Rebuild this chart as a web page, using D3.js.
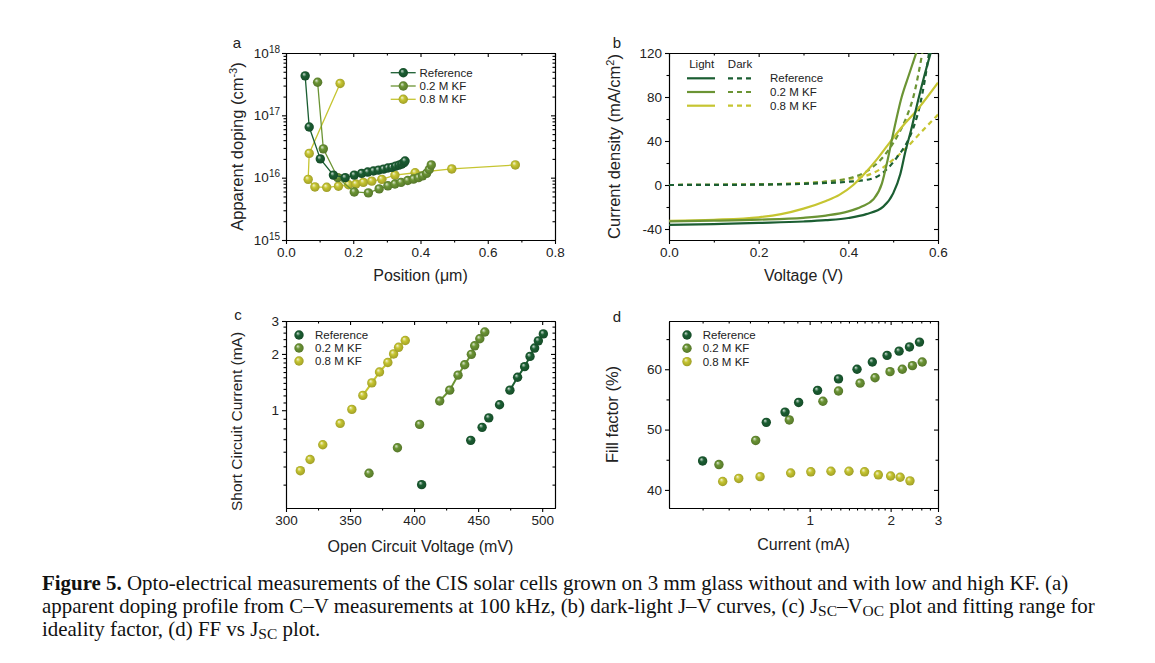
<!DOCTYPE html>
<html>
<head>
<meta charset="utf-8">
<script src="https://cdn.jsdelivr.net/npm/d3@7"></script>
<style>
  body { margin: 0; background: #fff; }
  svg { display: block; font-family: "Liberation Sans", Arial, sans-serif; }
</style>
</head>
<body>
<svg id="fig" width="1155" height="663"></svg>
<script>
// ---- data ----
const seriesNames = ["Reference", "0.2 M KF", "0.8 M KF"];

// (a) apparent doping profile
const posRef  = [0.057, 0.069, 0.102, 0.141, 0.176, 0.203, 0.225, 0.243, 0.260, 0.275, 0.290, 0.303, 0.315, 0.326, 0.336, 0.344, 0.351, 0.354];
const dopRef  = [4.3e17, 6.5e16, 2.0e16, 1.1e16, 1.0e16, 1.1e16, 1.17e16, 1.23e16, 1.28e16, 1.32e16, 1.37e16, 1.43e16, 1.46e16, 1.53e16, 1.59e16, 1.65e16, 1.74e16, 1.85e16];
const posKF02 = [0.094, 0.111, 0.154, 0.203, 0.245, 0.277, 0.303, 0.324, 0.342, 0.362, 0.379, 0.394, 0.406, 0.418, 0.426, 0.432];
const dopKF02 = [3.4e17, 2.9e16, 1.0e16, 5.9e15, 5.7e15, 6.6e15, 7.4e15, 7.9e15, 8.4e15, 9.0e15, 9.5e15, 1.0e16, 1.07e16, 1.17e16, 1.35e16, 1.6e16];
const posKF08 = [0.161, 0.069, 0.066, 0.086, 0.121, 0.156, 0.186, 0.208, 0.230, 0.255, 0.285, 0.324, 0.384, 0.493, 0.682];
const dopKF08 = [3.25e17, 2.45e16, 9.4e15, 7.1e15, 7.0e15, 7.3e15, 7.7e15, 7.9e15, 8.4e15, 8.8e15, 9.4e15, 1.1e16, 1.2e16, 1.38e16, 1.6e16];

// (b) J-V curves, light and dark
const lightRefV  = [0, 0.1, 0.2, 0.3, 0.35, 0.4, 0.44, 0.478, 0.5, 0.516, 0.527, 0.54, 0.555, 0.57, 0.585];
const lightRefJ  = [-36.3, -35.5, -34.5, -33.2, -32, -30, -26.5, -19.7, -7.6, 10, 30, 50, 76, 100, 122];
const lightKF02V = [0, 0.1, 0.2, 0.3, 0.35, 0.4, 0.43, 0.456, 0.475, 0.486, 0.497, 0.519, 0.535, 0.553];
const lightKF02J = [-33, -32.4, -31.5, -29.8, -27.8, -24, -19.5, -13, 1.5, 19.7, 41, 80, 100, 122];
const lightKF08V = [0, 0.1, 0.2, 0.25, 0.3, 0.35, 0.38, 0.411, 0.44, 0.465, 0.493, 0.52, 0.553, 0.6];
const lightKF08J = [-32.5, -31.6, -29.4, -26.5, -21.5, -14.5, -9, 0, 12, 24, 39, 53, 68, 93];
const darkRefV   = [0, 0.1, 0.2, 0.3, 0.35, 0.4, 0.45, 0.47, 0.49, 0.51, 0.53, 0.545, 0.56, 0.57, 0.58];
const darkRefJ   = [0, 0.1, 0.3, 1, 1.8, 3, 5.5, 9, 16, 26, 38, 52, 73, 94, 120];
const darkKF02V  = [0, 0.1, 0.2, 0.3, 0.35, 0.4, 0.43, 0.45, 0.47, 0.49, 0.51, 0.53, 0.545, 0.565];
const darkKF02J  = [0, 0.2, 0.6, 1.5, 3, 6, 10, 15, 22, 32, 45, 62, 80, 120];
const darkKF08V  = [0, 0.1, 0.2, 0.3, 0.35, 0.4, 0.44, 0.47, 0.5, 0.53, 0.56, 0.6];
const darkKF08J  = [0, 0.2, 0.5, 1.8, 3, 5.5, 8.5, 14, 23, 34, 47, 64];

// (c) Jsc-Voc and (d) FF vs Jsc  (same current values in both)
const vocRef  = [405.9, 444.2, 453.1, 458.3, 466.7, 474.8, 480.8, 486.3, 490.5, 494.1, 497.0, 500.9];
const iscRef  = [0.40, 0.69, 0.81, 0.91, 1.07, 1.28, 1.50, 1.71, 1.94, 2.15, 2.35, 2.56];
const ffRef   = [44.8, 51.2, 52.9, 54.5, 56.5, 58.4, 60.0, 61.2, 62.3, 63.0, 63.7, 64.5];
const vocKF02 = [364.8, 387.0, 404.3, 420.0, 427.8, 434.3, 439.5, 444.7, 447.3, 451.3, 455.2];
const iscKF02 = [0.46, 0.63, 0.84, 1.12, 1.28, 1.54, 1.75, 1.99, 2.21, 2.41, 2.62];
const ffKF02  = [44.2, 48.2, 51.6, 54.7, 56.4, 57.7, 58.6, 59.6, 60.0, 60.6, 61.2];
const vocKF08 = [311.2, 318.8, 328.7, 342.3, 351.4, 360.0, 367.0, 373.0, 379.5, 384.0, 387.9, 393.1];
const iscKF08 = [0.475, 0.545, 0.654, 0.85, 1.01, 1.20, 1.40, 1.60, 1.80, 2.0, 2.17, 2.36];
const ffKF08  = [41.4, 41.9, 42.2, 42.8, 43.0, 43.1, 43.1, 43.0, 42.5, 42.3, 42.1, 41.5];
const fitStart = [5, 3, 5];   // first point of the ideality fitting range

// tick values
const aXTicks = [0, 0.2, 0.4, 0.6, 0.8], aXMinor = [0.1, 0.3, 0.5, 0.7];
const aYTicks = [1e15, 1e16, 1e17, 1e18];
const bXTicks = [0, 0.2, 0.4, 0.6], bXMinor = [0.1, 0.3, 0.5];
const bYTicks = [-40, 0, 40, 80, 120], bYMinor = [-20, 20, 60, 100];
const cXTicks = [300, 350, 400, 450, 500], cXMinor = [325, 375, 425, 475];
const logTicks = [1, 2, 3];
const logMinor = [0.4, 0.5, 0.6, 0.7, 0.8, 0.9, 1.1, 1.2, 1.3, 1.4, 1.5, 1.6, 1.7, 1.8, 1.9, 2.2, 2.4, 2.6, 2.8];
const dYTicks = [40, 50, 60], dYMinor = [45, 55, 65];

// ---- styles ----
const colors = ["#1b5e32", "#6b9434", "#c6c531"];
const W = 269, H = 187;
const svg = d3.select("#fig");
const defs = svg.append("defs");

colors.forEach(function(c, i) {
  const g = defs.append("radialGradient").attr("id", "ball" + i)
    .attr("cx", "50%").attr("cy", "50%").attr("r", "55%")
    .attr("fx", "35%").attr("fy", "30%");
  g.append("stop").attr("offset", "0%").attr("stop-color", d3.interpolateRgb(c, "#fff")(0.8));
  g.append("stop").attr("offset", "40%").attr("stop-color", c);
  g.append("stop").attr("offset", "100%").attr("stop-color", d3.color(c).darker(0.7));
});

function zip(a, b) { return a.map(function(v, i) { return [v, b[i]]; }); }

function panel(x0, y0, id) {
  defs.append("clipPath").attr("id", "clip" + id)
    .append("rect").attr("width", W).attr("height", H);
  return svg.append("g").attr("transform", "translate(" + x0 + "," + y0 + ")");
}

function styleAxis(sel) {
  sel.attr("font-size", 13.5).attr("font-family", null);
  sel.selectAll("path, line").attr("stroke", "#000").attr("stroke-width", 1.1);
  sel.selectAll("text").attr("fill", "#222");
}

function axes(g, x, y, o) {
  // bottom, with labels
  g.append("g").attr("transform", "translate(0," + H + ")")
    .call(d3.axisBottom(x).tickValues(o.xTicks).tickSize(4).tickPadding(3).tickSizeOuter(0).tickFormat(o.xFmt))
    .call(styleAxis);
  g.append("g").attr("transform", "translate(0," + H + ")")
    .call(d3.axisBottom(x).tickValues(o.xMinor).tickSize(2.5).tickSizeOuter(0).tickFormat(""))
    .call(styleAxis);
  // left, with labels
  const ly = g.append("g")
    .call(d3.axisLeft(y).tickValues(o.yTicks).tickSize(4).tickPadding(o.yPad || 3).tickSizeOuter(0).tickFormat(o.yFmt))
    .call(styleAxis);
  g.append("g")
    .call(d3.axisLeft(y).tickValues(o.yMinor).tickSize(2.5).tickSizeOuter(0).tickFormat(""))
    .call(styleAxis);
  // top and right, ticks pointing inward
  g.append("g").call(d3.axisBottom(x).tickValues(o.xTicks).tickSize(4).tickSizeOuter(0).tickFormat("")).call(styleAxis);
  g.append("g").call(d3.axisBottom(x).tickValues(o.xMinor).tickSize(2.5).tickSizeOuter(0).tickFormat("")).call(styleAxis);
  g.append("g").attr("transform", "translate(" + W + ",0)")
    .call(d3.axisLeft(y).tickValues(o.yTicks).tickSize(4).tickSizeOuter(0).tickFormat("")).call(styleAxis);
  g.append("g").attr("transform", "translate(" + W + ",0)")
    .call(d3.axisLeft(y).tickValues(o.yMinor).tickSize(2.5).tickSizeOuter(0).tickFormat("")).call(styleAxis);
  return ly;
}

function xTitle(g, txt, dy) {
  g.append("text").attr("x", W / 2).attr("y", H + dy).attr("text-anchor", "middle")
    .attr("font-size", 16).attr("fill", "#222").text(txt);
}

function yTitle(g, dx, parts, size, shift) {
  const t = g.append("text")
    .attr("transform", "translate(" + dx + "," + (H / 2 + (shift || 0)) + ") rotate(-90)")
    .attr("text-anchor", "middle").attr("font-size", size || 16.5).attr("fill", "#222");
  parts.forEach(function(p) {
    const s = t.append("tspan").text(p[0]);
    if (p[1] === "sup") s.attr("font-size", 11).attr("baseline-shift", "super");
  });
}

function panelLabel(x, y, txt) {
  svg.append("text").attr("x", x).attr("y", y).attr("text-anchor", "middle")
    .attr("font-size", 15).attr("fill", "#222").text(txt);
}

function balls(g, pts, i) {
  g.selectAll(null).data(pts).enter().append("circle")
    .attr("cx", function(d) { return d[0]; }).attr("cy", function(d) { return d[1]; })
    .attr("r", 4.7).attr("fill", "url(#ball" + i + ")");
}

// ================= (a) =================
const ga = panel(286, 53, "a");
const xa = d3.scaleLinear().domain([0, 0.8]).range([0, W]);
const ya = d3.scaleLog().domain([1e15, 1e18]).range([H, 0]);
const aMinor = [];
[1e15, 1e16, 1e17].forEach(function(dec) { for (let k = 2; k <= 9; k++) aMinor.push(k * dec); });
const lyA = axes(ga, xa, ya, { xTicks: aXTicks, xMinor: aXMinor, xFmt: d3.format(".1f"),
  yTicks: aYTicks, yMinor: aMinor, yFmt: function() { return "10"; }, yPad: 2 });
lyA.selectAll(".tick text").each(function(d) {
  d3.select(this).append("tspan").attr("font-size", 10).attr("dy", "-0.5em")
    .text(Math.round(Math.log10(d)));
});
const aData = [zip(posRef, dopRef), zip(posKF02, dopKF02), zip(posKF08, dopKF08)];
const lineA = d3.line().x(function(d) { return xa(d[0]); }).y(function(d) { return ya(d[1]); });
[2, 1, 0].forEach(function(i) {
  ga.append("path").attr("d", lineA(aData[i])).attr("fill", "none")
    .attr("stroke", colors[i]).attr("stroke-width", 1.3);
  balls(ga, aData[i].map(function(d) { return [xa(d[0]), ya(d[1])]; }), i);
});
seriesNames.forEach(function(n, i) {
  const ly = 19.7 + i * 13.3;
  ga.append("line").attr("x1", 104.7).attr("x2", 129.7).attr("y1", ly).attr("y2", ly)
    .attr("stroke", colors[i]).attr("stroke-width", 1.3);
  balls(ga, [[117.3, ly]], i);
  ga.append("text").attr("x", 133.5).attr("y", ly).attr("dy", "0.35em")
    .attr("font-size", 11.5).attr("fill", "#222").text(n);
});
xTitle(ga, "Position (\u03bcm)", 41);
yTitle(ga, -43, [["Apparent doping (cm"], ["-3", "sup"], [")"]]);
panelLabel(237, 48, "a");

// ================= (b) =================
const gb = panel(669, 53, "b");
const xb = d3.scaleLinear().domain([0, 0.6]).range([0, W]);
const yb = d3.scaleLinear().domain([-50, 120]).range([H, 0]);
axes(gb, xb, yb, { xTicks: bXTicks, xMinor: bXMinor, xFmt: d3.format(".1f"),
  yTicks: bYTicks, yMinor: bYMinor, yFmt: function(d) { return String(d); } });
const lineB = d3.line().curve(d3.curveMonotoneX)
  .x(function(d) { return xb(d[0]); }).y(function(d) { return yb(d[1]); });
const darkB = [zip(darkRefV, darkRefJ), zip(darkKF02V, darkKF02J), zip(darkKF08V, darkKF08J)];
const lightB = [zip(lightRefV, lightRefJ), zip(lightKF02V, lightKF02J), zip(lightKF08V, lightKF08J)];
const plotB = gb.append("g").attr("clip-path", "url(#clipb)");
[2, 1, 0].forEach(function(i) {
  plotB.append("path").attr("d", lineB(darkB[i])).attr("fill", "none")
    .attr("stroke", colors[i]).attr("stroke-width", 2.2).attr("stroke-dasharray", "5,4");
});
[2, 1, 0].forEach(function(i) {
  plotB.append("path").attr("d", lineB(lightB[i])).attr("fill", "none")
    .attr("stroke", colors[i]).attr("stroke-width", 2.2);
});
gb.append("text").attr("x", 32.7).attr("y", 11).attr("dy", "0.35em").attr("text-anchor", "middle")
  .attr("font-size", 11.5).attr("fill", "#222").text("Light");
gb.append("text").attr("x", 71).attr("y", 11).attr("dy", "0.35em").attr("text-anchor", "middle")
  .attr("font-size", 11.5).attr("fill", "#222").text("Dark");
seriesNames.forEach(function(n, i) {
  const ly = 25.3 + i * 13.7;
  gb.append("line").attr("x1", 18).attr("x2", 46).attr("y1", ly).attr("y2", ly)
    .attr("stroke", colors[i]).attr("stroke-width", 2.2);
  gb.append("line").attr("x1", 59).attr("x2", 85).attr("y1", ly).attr("y2", ly)
    .attr("stroke", colors[i]).attr("stroke-width", 2.2).attr("stroke-dasharray", "5,4");
  gb.append("text").attr("x", 101).attr("y", ly).attr("dy", "0.35em")
    .attr("font-size", 11.5).attr("fill", "#222").text(n);
});
xTitle(gb, "Voltage (V)", 41);
yTitle(gb, -49, [["Current density (mA/cm"], ["2", "sup"], [")"]]);
panelLabel(617, 48, "b");

// ================= (c) =================
const gc = panel(286, 321, "c");
const xc = d3.scaleLinear().domain([300, 510]).range([0, W]);
const yc = d3.scaleLog().domain([0.3, 3]).range([H, 0]);
axes(gc, xc, yc, { xTicks: cXTicks, xMinor: cXMinor, xFmt: d3.format("d"),
  yTicks: logTicks, yMinor: logMinor, yFmt: d3.format("d") });
const cData = [zip(vocRef, iscRef), zip(vocKF02, iscKF02), zip(vocKF08, iscKF08)];
const lineC = d3.line().x(function(d) { return xc(d[0]); }).y(function(d) { return yc(d[1]); });
[2, 1, 0].forEach(function(i) {
  gc.append("path").attr("d", lineC(cData[i].slice(fitStart[i]))).attr("fill", "none")
    .attr("stroke", colors[i]).attr("stroke-width", 2);
  balls(gc, cData[i].map(function(d) { return [xc(d[0]), yc(d[1])]; }), i);
});
seriesNames.forEach(function(n, i) {
  const ly = 14 + i * 13;
  balls(gc, [[13, ly]], i);
  gc.append("text").attr("x", 29).attr("y", ly).attr("dy", "0.35em")
    .attr("font-size", 11.5).attr("fill", "#222").text(n);
});
xTitle(gc, "Open Circuit Voltage (mV)", 44);
yTitle(gc, -44, [["Short Circuit Current (mA)"]], 15.5, 7);
panelLabel(238, 320, "c");

// ================= (d) =================
const gd = panel(669, 321, "d");
const xd = d3.scaleLog().domain([0.3, 3]).range([0, W]);
const yd = d3.scaleLinear().domain([37, 68]).range([H, 0]);
axes(gd, xd, yd, { xTicks: logTicks, xMinor: logMinor, xFmt: d3.format("d"),
  yTicks: dYTicks, yMinor: dYMinor, yFmt: d3.format("d") });
const dData = [zip(iscRef, ffRef), zip(iscKF02, ffKF02), zip(iscKF08, ffKF08)];
[2, 1, 0].forEach(function(i) {
  balls(gd, dData[i].map(function(d) { return [xd(d[0]), yd(d[1])]; }), i);
});
seriesNames.forEach(function(n, i) {
  const ly = 14 + i * 13.3;
  balls(gd, [[18, ly]], i);
  gd.append("text").attr("x", 33.7).attr("y", ly).attr("dy", "0.35em")
    .attr("font-size", 11.5).attr("fill", "#222").text(n);
});
xTitle(gd, "Current (mA)", 42);
yTitle(gd, -51, [["Fill factor (%)"]]);
panelLabel(617, 322, "d");

// ================= caption =================
const capLines = [
  [["Figure 5.", "b"], [" Opto-electrical measurements of the CIS solar cells grown on 3 mm glass without and with low and high KF. (a)"]],
  [["apparent doping profile from C\u2013V measurements at 100 kHz, (b) dark-light J\u2013V curves, (c) J"], ["SC", "sub"], ["\u2013V"], ["OC", "sub"], [" plot and fitting range for"]],
  [["ideality factor, (d) FF vs J"], ["SC", "sub"], [" plot."]]
];
const capBase = [590, 613, 636];
const caps = capLines.map(function(parts, li) {
  const t = svg.append("text").attr("x", 42).attr("y", capBase[li])
    .attr("font-family", "'Liberation Serif', 'DejaVu Serif', serif").attr("font-size", 17).attr("fill", "#111");
  parts.forEach(function(p) {
    const s = t.append("tspan").text(p[0]);
    if (p[1] === "b") s.attr("font-weight", "bold");
    if (p[1] === "sub") s.attr("font-size", 12.5).attr("baseline-shift", "-20%");
  });
  return t;
});
// fit the caption width to the reference line length
const w0 = caps[0].node().getComputedTextLength();
const fs = 17 * (1027 / w0);
caps.forEach(function(t) {
  t.attr("font-size", fs);
  t.selectAll("tspan").filter(function() { return d3.select(this).attr("font-size"); })
    .attr("font-size", fs * 0.74);
});
</script>
</body>
</html>
